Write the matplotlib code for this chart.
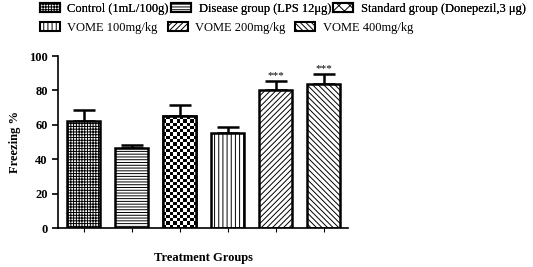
import matplotlib
matplotlib.use('Agg')
import matplotlib.pyplot as plt
import matplotlib.patches as mpatches
import numpy as np

plt.rcParams['font.family'] = ['Liberation Serif', 'DejaVu Serif']
plt.rcParams['hatch.linewidth'] = 0.7

groups = ['Control (1mL/100g)', 'Disease group (LPS 12\u03bcg)', 'Standard group (Donepezil,3 \u03bcg)',
          'VOME 100mg/kg', 'VOME 200mg/kg', 'VOME 400mg/kg']
freezing = [62.5, 46.5, 65, 55, 80, 84]
sem = [6, 1.5, 6.5, 3.5, 5.5, 5.5]
stars = ['', '', '', '', '***', '***']
hatches = ['++++++', '------', '', '||||', '//////', '\\\\\\\\\\\\']

fig = plt.figure(figsize=(5.33, 2.67), dpi=100)
ax = fig.add_axes([0.109, 0.146, 0.544, 0.644])

x = np.arange(len(groups))
w = 0.69
bars = ax.bar(x, freezing, width=w, color='white', edgecolor='black', linewidth=1.8,
              hatch=hatches, zorder=2)

# checkerboard fill for the standard group
i = 2
ncols = 10
nrows = int(round(freezing[i] / (w / ncols * 48 / 172 * 100)))
chk = np.indices((nrows, ncols)).sum(axis=0) % 2
im = ax.imshow(chk, cmap='gray_r', extent=(x[i] - w / 2, x[i] + w / 2, 0, freezing[i]),
               aspect='auto', interpolation='nearest', zorder=2.5)
im.set_clip_path(bars[i])
ax.bar(x[i], freezing[i], width=w, fill=False, edgecolor='black', linewidth=1.8, zorder=3)

ax.errorbar(x, freezing, yerr=[np.zeros(len(sem)), sem], fmt='none', ecolor='black',
            elinewidth=1.8, capsize=8, capthick=1.8, zorder=1)
for xi, v, e, s in zip(x, freezing, sem, stars):
    if s:
        ax.text(xi, v + e + 0.5, s, ha='center', va='bottom', fontsize=8)

ax.set_xlim(-0.53, 5.51)
ax.set_ylim(0, 100)
ax.set_yticks([0, 20, 40, 60, 80, 100])
ax.set_xticks(x)
ax.set_xticklabels([])
ax.tick_params(axis='x', length=3, width=0.8)
ax.tick_params(axis='y', length=4, width=1.2, labelsize=9)
for lbl in ax.get_yticklabels():
    lbl.set_fontweight('bold')
ax.spines['top'].set_visible(False)
ax.spines['right'].set_visible(False)
ax.spines['left'].set_linewidth(1.2)
ax.spines['bottom'].set_linewidth(1.2)
ax.set_ylabel('Freezing %', fontsize=9, fontweight='bold', labelpad=6)
ax.set_xlabel('Treatment Groups', fontsize=9, fontweight='bold', labelpad=11)

leg_hatches = ['++++++', '------', 'xxx', '||||', '//////', '\\\\\\\\\\\\']
h = [mpatches.Patch(facecolor='white', edgecolor='black', linewidth=1.5, hatch=hh) for hh in leg_hatches]
leg1 = fig.legend(h[:3], groups[:3], loc='upper left', bbox_to_anchor=(0.065, 1.008), ncol=3,
                  frameon=False, fontsize=9, handlelength=1.6, handleheight=0.7,
                  handletextpad=0.6, columnspacing=0.2, borderaxespad=0)
fig.legend(h[3:], groups[3:], loc='upper left', bbox_to_anchor=(0.065, 0.937), ncol=3,
           frameon=False, fontsize=9, handlelength=1.6, handleheight=0.7,
           handletextpad=0.6, columnspacing=0.8, borderaxespad=0)
fig.add_artist(leg1)

fig.savefig('out.png', dpi=100)
